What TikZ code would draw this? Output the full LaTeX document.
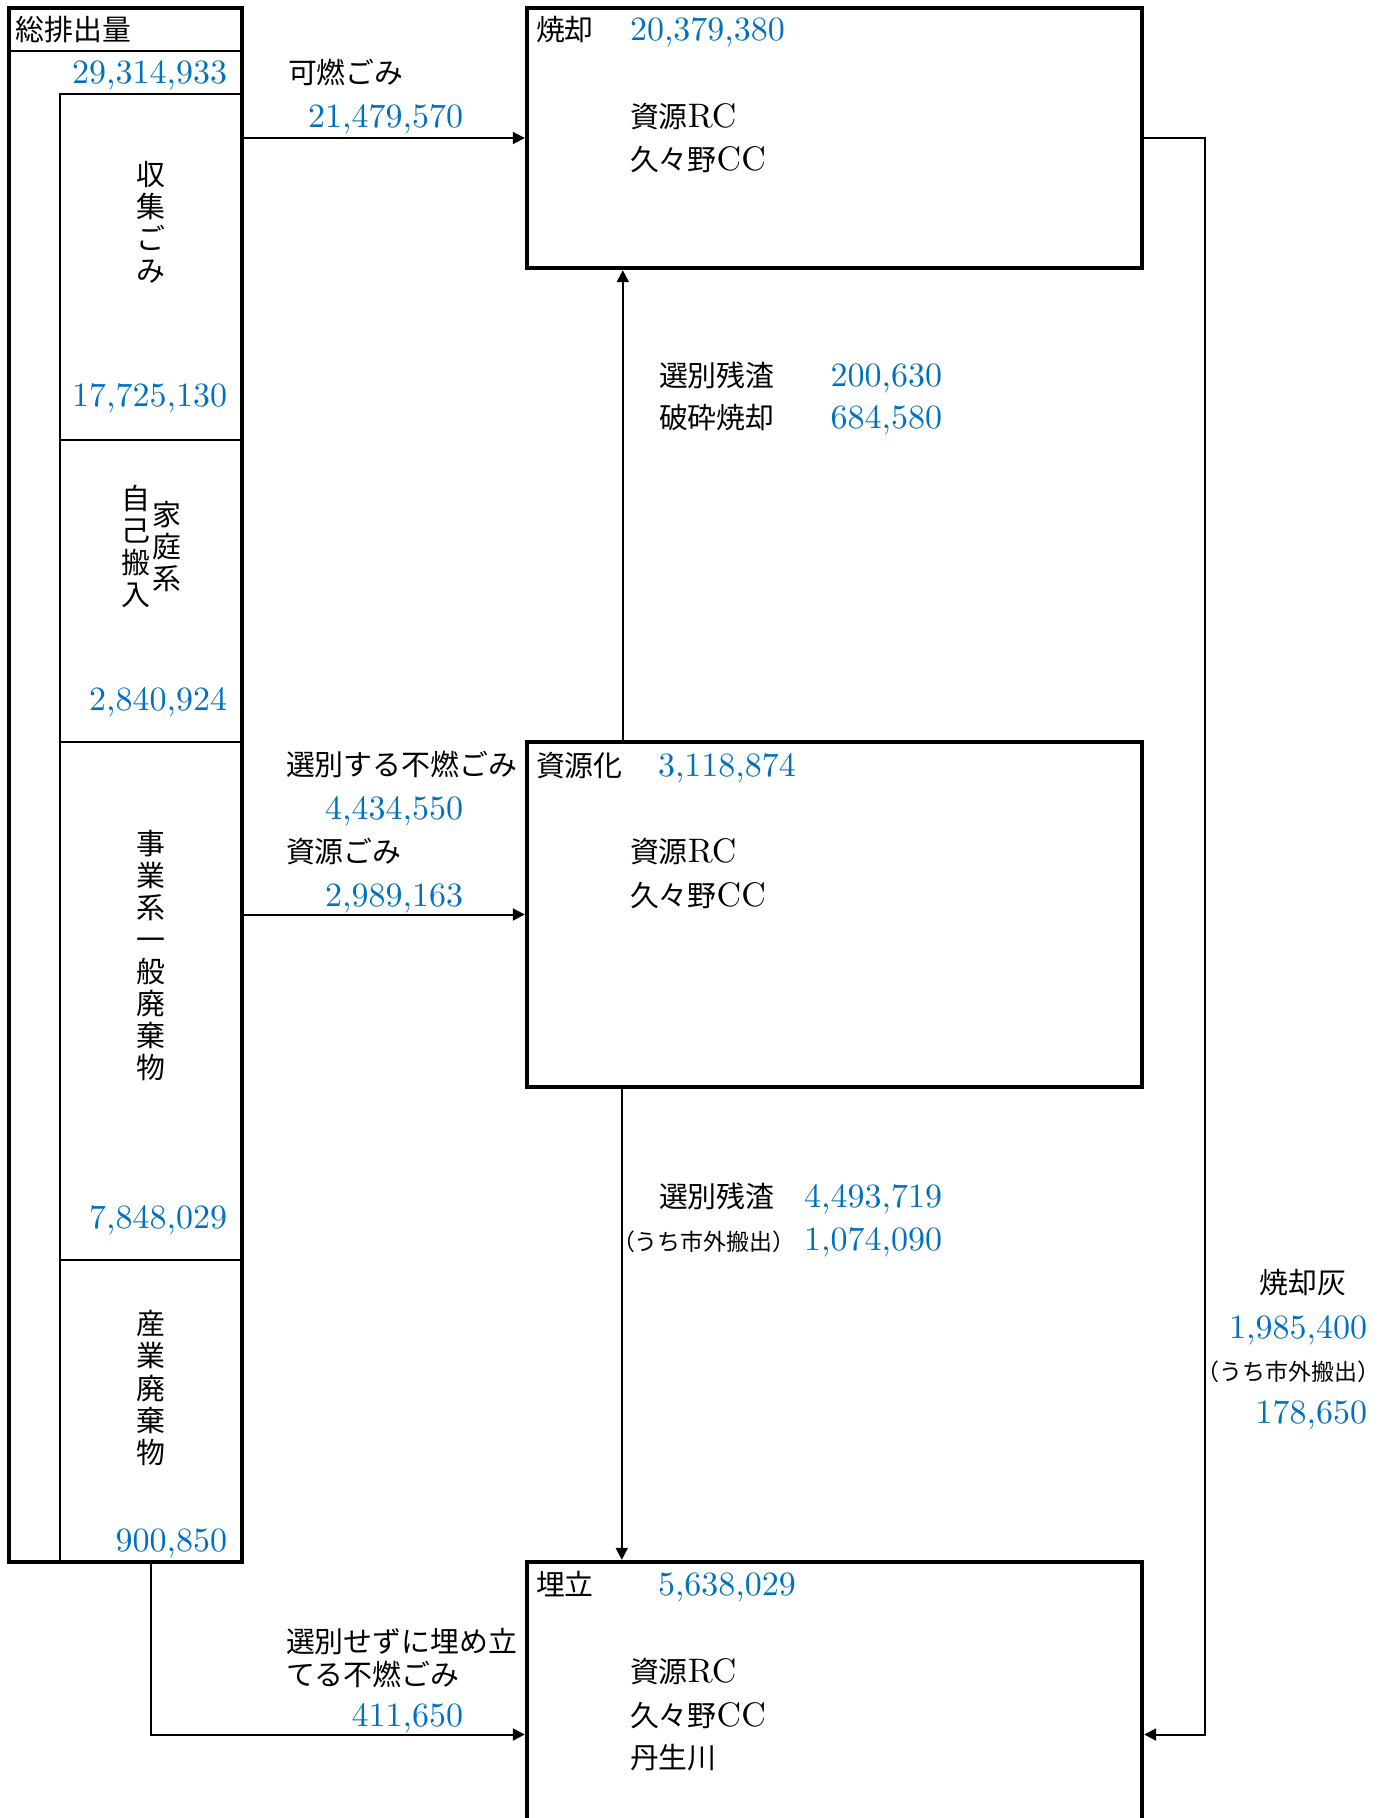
\documentclass[tikz,border=0pt]{standalone}
\usepackage{fontspec}
\setmainfont{lmroman10-regular}[Extension=.otf]
\usepackage{tikz}
\usetikzlibrary{arrows.meta,positioning}
\newfontfamily\jp{Noto Sans CJK JP}[Scale=0.85]
\definecolor{numblue}{RGB}{0,112,192}
\newcommand{\J}[1]{{\jp #1}}

\begin{document}
\begin{tikzpicture}[
		x=0.5pt, y=-0.5pt,
		->,
		>={Triangle[length=6pt,width=6pt]},
		line width=1pt,
		font=\fontsize{17}{19}\selectfont,
		cell/.style={draw,line width=1.2pt,minimum width=91pt,inner sep=0pt},
		plant/.style={draw,line width=2.2pt,minimum width=307.5pt,inner sep=0pt},
		tx/.style={inner sep=0pt,text height=11pt,text depth=0pt},
		num/.style={tx,text=numblue},
		jtx/.style={tx,font=\fontsize{17}{19}\selectfont\jp},
		small/.style={tx,font=\fontsize{13.5}{15}\selectfont\jp},
		vtx/.style={inner sep=0pt,align=center,font=\fontsize{17}{16}\selectfont\jp}]

	\useasboundingbox (0,0) rectangle (1385,1818);

	% left column
	\node[cell,minimum width=116.5pt,minimum height=21.5pt] (head) at (125.5,29.5) {};
	\node[cell,minimum height=173pt] (shushu) at (151,267) {};
	\node[cell,minimum height=151pt] (katei) at (151,591) {};
	\node[cell,minimum height=259pt] (jigyo) at (151,1001) {};
	\node[cell,minimum height=151pt] (sangyo) at (151,1411) {};
	\node[draw,line width=2.2pt,minimum width=116.5pt,minimum height=777pt,inner sep=0pt] (sohai) at (125.5,785) {};

	\node[jtx,anchor=west] (sohai t) at (15,30) {総排出量};
	\node[num,anchor=east] (sohai n) at (228,73) {29,314,933};

	\node[vtx] (shushu t) at (151,222) {収\\集\\ご\\み};
	\node[num,anchor=east] (shushu n) at (228,396) {17,725,130};

	\node[vtx] (katei t1) at (136,546.5) {自\\己\\搬\\入};
	\node[vtx] (katei t2) at (167,546.5) {家\\庭\\系};
	\node[num,anchor=east] (katei n) at (228,699) {2,840,924};

	\node[vtx] (jigyo t) at (151,956) {事\\業\\系\\一\\般\\廃\\棄\\物};
	\node[num,anchor=east] (jigyo n) at (228,1217) {7,848,029};

	\node[vtx] (sangyo t) at (151,1388) {産\\業\\廃\\棄\\物};
	\node[num,anchor=east] (sangyo n) at (228,1540) {900,850};

	% plants
	\node[plant,minimum height=130pt] (shokyaku) at (834.5,138) {};
	\node[plant,minimum height=172.5pt] (shigenka) at (834.5,914.5) {};
	\node[plant,minimum height=172.5pt] (umetate) at (834.5,1734.5) {};

	\node[jtx,anchor=west] (shokyaku t) at (535,30) {焼却};
	\node[num,anchor=west] (shokyaku n) at (629,30) {20,379,380};
	\node[tx,anchor=west] (rc1) at (629,117) {\J{資源}RC};
	\node[tx,below=21.5pt of rc1.west,anchor=west] (cc1) {\J{久々野}CC};

	\node[jtx,anchor=west] (shigenka t) at (535,765) {資源化};
	\node[num,anchor=west] (shigenka n) at (657,765) {3,118,874};
	\node[tx,anchor=west] (rc2) at (629,851) {\J{資源}RC};
	\node[tx,below=22pt of rc2.west,anchor=west] (cc2) {\J{久々野}CC};

	\node[jtx,anchor=west] (umetate t) at (535,1584) {埋立};
	\node[num,anchor=west] (umetate n) at (657,1584) {5,638,029};
	\node[tx,anchor=west] (rc3) at (629,1671) {\J{資源}RC};
	\node[tx,below=22pt of rc3.west,anchor=west] (cc3) {\J{久々野}CC};
	\node[jtx,below=21pt of cc3.west,anchor=west] (nyu) {丹生川};

	% flow labels
	\node[jtx,anchor=west] (kanen t) at (287,73) {可燃ごみ};
	\node[num,anchor=east] (kanen n) at (464,117) {21,479,570};

	\node[jtx,anchor=west] (funen t) at (285,764) {選別する不燃ごみ};
	\node[num,anchor=east] (funen n) at (464,808) {4,434,550};
	\node[jtx,anchor=west] (shigen t) at (285,851) {資源ごみ};
	\node[num,anchor=east] (shigen n) at (464,895) {2,989,163};

	\node[jtx,anchor=west] (chokusetsu t1) at (285,1641) {選別せずに埋め立};
	\node[jtx,anchor=west] (chokusetsu t2) at (285,1674) {てる不燃ごみ};
	\node[num,anchor=east] (chokusetsu n) at (464,1715) {411,650};

	\node[jtx,anchor=west] (zansa1 t) at (658,376) {選別残渣};
	\node[num,anchor=east] (zansa1 n) at (943,376) {200,630};
	\node[jtx,anchor=west] (hasai t) at (658,418) {破砕焼却};
	\node[num,anchor=east] (hasai n) at (943,418) {684,580};

	\node[jtx,anchor=west] (zansa2 t) at (658,1196) {選別残渣};
	\node[num,anchor=east] (zansa2 n) at (943,1196) {4,493,719};
	\node[small,anchor=west] (shigai1 t) at (611,1239) {（うち市外搬出）};
	\node[num,anchor=east] (shigai1 n) at (943,1239) {1,074,090};

	\node[jtx] (hai t) at (1303,1282) {焼却灰};
	\node[num,anchor=east] (hai n) at (1368,1327) {1,985,400};
	\node[small,anchor=east] (shigai2 t) at (1381,1369) {（うち市外搬出）};
	\node[num,anchor=east] (shigai2 n) at (1368,1412) {178,650};

	% connectors
	\draw (sohai.east |- shokyaku.west) -- (shokyaku.west);
	\draw (sohai.east |- shigenka.west) -- (shigenka.west);
	\draw (sohai.south -| sangyo.south) |- (umetate.west);
	\draw ([xshift=49pt]shigenka.north west) -- ([xshift=49pt]shokyaku.south west);
	\draw ([xshift=48.5pt]shigenka.south west) -- ([xshift=48.5pt]umetate.north west);
	\draw (shokyaku.east) -- ++(61,0) |- (umetate.east);
\end{tikzpicture}
\end{document}
